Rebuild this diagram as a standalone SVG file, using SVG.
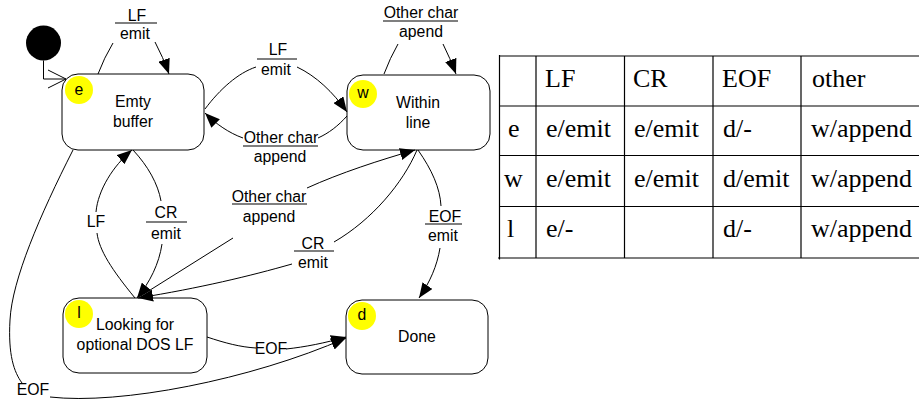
<svg xmlns="http://www.w3.org/2000/svg" width="919" height="402" viewBox="0 0 919 402">
  <style>
    .state { fill: #ffffff; stroke: #000000; stroke-width: 1; }
    .tag { fill: #ffff00; stroke: none; }
    .lbl { font-family: "Liberation Sans", Arial, sans-serif; font-size: 15.8px; fill: #000000; text-anchor: middle; }
    .edge { fill: none; stroke: #000000; stroke-width: 1; }
    .arrow { marker-end: url(#head); }
    .uline { stroke: #000000; stroke-width: 1.2; }
    .grid { stroke: #000000; stroke-width: 1.2; }
    .cell { font-family: "Liberation Serif", "Times New Roman", serif; font-size: 26px; fill: #000000; }
  </style>
  <defs>
    <marker id="head" markerUnits="userSpaceOnUse" markerWidth="16" markerHeight="12" refX="15" refY="6" orient="auto">
      <path d="M0,0 L15,6 L0,12 z" fill="#000000"/>
    </marker>
  </defs>

  <rect width="919" height="402" fill="#ffffff"/>

  <!-- initial pseudo-state -->
  <g id="start">
    <circle cx="43.5" cy="43" r="17.5" fill="#000000"/>
  </g>

  <!-- states -->
  <g id="state-e">
    <rect class="state" x="62" y="74" width="142" height="76" rx="16"/>
    <circle class="tag" cx="79" cy="90" r="14"/>
    <text class="lbl" x="79" y="95">e</text>
    <text class="lbl" x="133" y="107">Emty</text>
    <text class="lbl" x="133" y="127">buffer</text>
  </g>
  <g id="state-w">
    <rect class="state" x="347" y="75" width="143" height="75" rx="16"/>
    <circle class="tag" cx="363" cy="94" r="14"/>
    <text class="lbl" x="363" y="98">w</text>
    <text class="lbl" x="418" y="108">Within</text>
    <text class="lbl" x="418" y="128">line</text>
  </g>
  <g id="state-l">
    <rect class="state" x="63" y="298" width="144" height="75" rx="16"/>
    <circle class="tag" cx="79" cy="314" r="14"/>
    <text class="lbl" x="79" y="318">l</text>
    <text class="lbl" x="135" y="330">Looking for</text>
    <text class="lbl" x="135" y="350">optional DOS LF</text>
  </g>
  <g id="state-d">
    <rect class="state" x="346" y="300" width="142" height="74" rx="16"/>
    <circle class="tag" cx="362" cy="316" r="14"/>
    <text class="lbl" x="362" y="320">d</text>
    <text class="lbl" x="417" y="342">Done</text>
  </g>

  <!-- transitions -->
  <g id="connectors">
    <!-- start -> e -->
    <path class="edge" d="M43.5,60.5 V79 H66"/>
    <path class="edge" d="M48,70 L66,79 L48,88"/>

    <!-- e -> e : LF / emit -->
    <path class="edge" d="M98,74 Q104,58 113,43"/>
    <path class="edge arrow" d="M155,42 Q163,57 169,74"/>
    <line class="uline" x1="115" y1="23" x2="157" y2="23"/>
    <text class="lbl" x="137" y="21">LF</text>
    <text class="lbl" x="135" y="39">emit</text>

    <!-- e -> w : LF / emit -->
    <path class="edge" d="M205,109 C220,89 238,73 256,67"/>
    <path class="edge arrow" d="M297,67 C316,76 333,92 347,112"/>
    <line class="uline" x1="257" y1="59" x2="297" y2="59"/>
    <text class="lbl" x="278" y="55">LF</text>
    <text class="lbl" x="276" y="75">emit</text>

    <!-- w -> e : Other char / append -->
    <path class="edge" d="M347,116 C338,126 329,133 318,138"/>
    <path class="edge arrow" d="M243,138 C229,133 216,124 205,113"/>
    <line class="uline" x1="243" y1="146" x2="318" y2="146"/>
    <text class="lbl" x="281" y="143">Other char</text>
    <text class="lbl" x="280" y="162">append</text>

    <!-- w -> w : Other char / apend -->
    <path class="edge" d="M384,74 Q390,58 398,44"/>
    <path class="edge arrow" d="M443,44 Q450,58 456,74"/>
    <line class="uline" x1="383" y1="21" x2="458" y2="21"/>
    <text class="lbl" x="421" y="18">Other char</text>
    <text class="lbl" x="421" y="37">apend</text>

    <!-- e -> l : CR / emit -->
    <path class="edge" d="M133,150 C148,166 158,184 161,201"/>
    <path class="edge arrow" d="M162,244 C159,264 150,282 137,298"/>
    <line class="uline" x1="146" y1="222" x2="187" y2="222"/>
    <text class="lbl" x="166" y="218">CR</text>
    <text class="lbl" x="166" y="239">emit</text>

    <!-- l -> e : LF -->
    <path class="edge" d="M135,298 C112,270 99,250 97,233"/>
    <path class="edge arrow" d="M96,212 C98,190 113,166 132,150"/>
    <text class="lbl" x="96" y="227">LF</text>

    <!-- w -> l : CR / emit -->
    <path class="edge" d="M417,150 C403,183 372,220 334,242"/>
    <path class="edge arrow" d="M292,264 C250,276 200,288 138,298"/>
    <line class="uline" x1="294" y1="251" x2="334" y2="251"/>
    <text class="lbl" x="313" y="249">CR</text>
    <text class="lbl" x="313" y="268">emit</text>

    <!-- l -> w : Other char / append -->
    <path class="edge" d="M139,297 L233,238"/>
    <path class="edge arrow" d="M307,188 C340,173 380,160 415,150"/>
    <line class="uline" x1="232" y1="204" x2="307" y2="204"/>
    <text class="lbl" x="269" y="202">Other char</text>
    <text class="lbl" x="269" y="222">append</text>

    <!-- w -> d : EOF / emit -->
    <path class="edge" d="M418,150 C432,170 440,188 441,206"/>
    <path class="edge arrow" d="M440,248 C437,266 430,282 419,298"/>
    <line class="uline" x1="425" y1="224" x2="462" y2="224"/>
    <text class="lbl" x="445" y="222">EOF</text>
    <text class="lbl" x="443" y="241">emit</text>

    <!-- l -> d : EOF -->
    <path class="edge" d="M207,337 C225,343 240,347 256,348"/>
    <path class="edge arrow" d="M286,349 C305,347 325,343 346,337"/>
    <text class="lbl" x="271" y="354">EOF</text>

    <!-- e -> d : EOF -->
    <path class="edge" d="M73,150 C40,215 12,280 10,320 C8,355 14,372 22,383"/>
    <path class="edge arrow" d="M50,397 C120,405 250,380 346,338"/>
    <text class="lbl" x="33" y="395">EOF</text>
  </g>

  <!-- transition table -->
  <g id="table">
    <line class="grid" x1="499" y1="56" x2="919" y2="56" stroke-width="2.2"/>
    <line class="grid" x1="499" y1="106" x2="919" y2="106"/>
    <line class="grid" x1="499" y1="155.5" x2="919" y2="155.5"/>
    <line class="grid" x1="499" y1="206.5" x2="919" y2="206.5"/>
    <line class="grid" x1="498" y1="258" x2="919" y2="258" stroke-width="3"/>
    <line class="grid" x1="499.5" y1="55" x2="499.5" y2="259.5" stroke-width="2.5"/>
    <line class="grid" x1="536" y1="56" x2="536" y2="258"/>
    <line class="grid" x1="624.5" y1="56" x2="624.5" y2="258"/>
    <line class="grid" x1="713" y1="56" x2="713" y2="258"/>
    <line class="grid" x1="801" y1="56" x2="801" y2="258"/>

    <text class="cell" x="545" y="87">LF</text>
    <text class="cell" x="633" y="87">CR</text>
    <text class="cell" x="722" y="87">EOF</text>
    <text class="cell" x="812" y="87">other</text>

    <text class="cell" x="508" y="137">e</text>
    <text class="cell" x="546" y="137">e/emit</text>
    <text class="cell" x="634" y="137">e/emit</text>
    <text class="cell" x="723" y="137">d/-</text>
    <text class="cell" x="811" y="137">w/append</text>

    <text class="cell" x="504" y="187">w</text>
    <text class="cell" x="546" y="187">e/emit</text>
    <text class="cell" x="634" y="187">e/emit</text>
    <text class="cell" x="723" y="187">d/emit</text>
    <text class="cell" x="811" y="187">w/append</text>

    <text class="cell" x="507" y="237">l</text>
    <text class="cell" x="546" y="237">e/-</text>
    <text class="cell" x="723" y="237">d/-</text>
    <text class="cell" x="811" y="237">w/append</text>
  </g>
</svg>
